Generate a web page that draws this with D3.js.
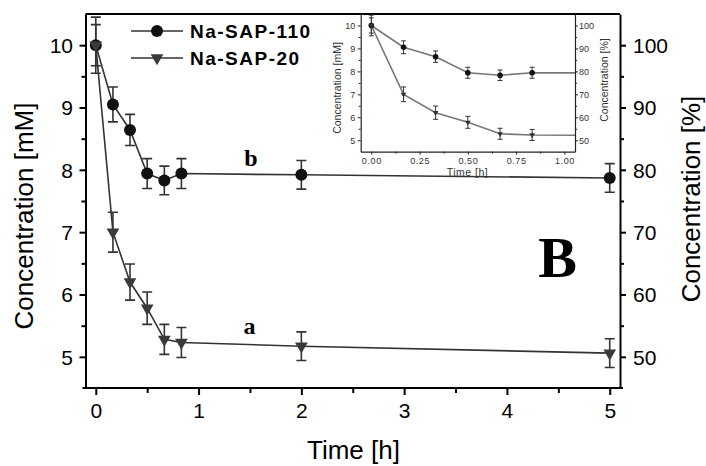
<!DOCTYPE html>
<html><head><meta charset="utf-8">
<script src="https://cdn.jsdelivr.net/npm/d3@7"></script>
<style>body{margin:0;background:#fff} svg{display:block}</style>
</head><body><svg id="c" width="706" height="466"></svg>
<script>
// ---- data ----
const times = [0, 0.167, 0.333, 0.5, 0.667, 0.833, 2, 5];
const sap110 = [10.0, 9.05, 8.64, 7.94, 7.83, 7.94, 7.92, 7.87];
const sap110Err = [0.45, 0.28, 0.25, 0.24, 0.23, 0.24, 0.23, 0.23];
const sap20 = [10.0, 7.0, 6.2, 5.78, 5.28, 5.23, 5.17, 5.06];
const sap20Err = [0.33, 0.32, 0.29, 0.26, 0.24, 0.24, 0.23, 0.23];
const seriesNames = ["Na-SAP-110", "Na-SAP-20"];
const xTicks = [0, 1, 2, 3, 4, 5];
const xMinor = [0.5, 1.5, 2.5, 3.5, 4.5];
const yTicks = [5, 6, 7, 8, 9, 10];
const yMinor = [5.5, 6.5, 7.5, 8.5, 9.5];
const pctTicks = [50, 60, 70, 80, 90, 100];
const pctMinor = [55, 65, 75, 85, 95];
const insetXTicks = [0, 0.25, 0.5, 0.75, 1.0];
const insetXMinor = [0.125, 0.375, 0.625, 0.875];
const labelA = "a", labelB = "b", panelLabel = "B";

const svg = d3.select("#c");
const sans = "Liberation Sans, Arial, sans-serif";
const serif = "Liberation Serif, Times New Roman, serif";

const series = [
  {name: seriesNames[0], vals: sap110, err: sap110Err, sym: "circle"},
  {name: seriesNames[1], vals: sap20, err: sap20Err, sym: "tri"}
];

// ---- main scales ----
const L = 85.5, R = 620, T = 14, B = 388;
const x = d3.scaleLinear().domain([-0.1, 5.1]).range([L, R]);
const y = d3.scaleLinear().domain([4.5, 10.5]).range([B, T]);
const yP = d3.scaleLinear().domain([45, 105]).range([B, T]);

function styleAxis(g, w) {
  g.select(".domain").attr("stroke", "#000").attr("stroke-width", w);
  g.selectAll(".tick line").attr("stroke", "#000").attr("stroke-width", w);
}

// minor ticks
svg.append("g").attr("transform", `translate(0,${B})`)
  .call(d3.axisBottom(x).tickValues(xMinor).tickSize(5).tickFormat(""))
  .call(g => { styleAxis(g, 2); g.select(".domain").remove(); });
svg.append("g").attr("transform", `translate(${L},0)`)
  .call(d3.axisLeft(y).tickValues(yMinor).tickSize(4).tickFormat(""))
  .call(g => { styleAxis(g, 2); g.select(".domain").remove(); });
svg.append("g").attr("transform", `translate(${R},0)`)
  .call(d3.axisRight(yP).tickValues(pctMinor).tickSize(4).tickFormat(""))
  .call(g => { styleAxis(g, 2); g.select(".domain").remove(); });

// major axes
const gx = svg.append("g").attr("transform", `translate(0,${B})`)
  .call(d3.axisBottom(x).tickValues(xTicks).tickSize(7).tickSizeOuter(0).tickFormat(d3.format("d")));
styleAxis(gx, 2);
gx.select(".domain").attr("d", `M${L-3},0H${R+3}`);
gx.selectAll("text").attr("font-family", sans).attr("font-size", 21).attr("fill", "#000")
  .attr("dy", null).attr("y", 30);

const gy = svg.append("g").attr("transform", `translate(${L},0)`)
  .call(d3.axisLeft(y).tickValues(yTicks).tickSize(6).tickSizeOuter(0).tickFormat(d3.format("d")));
styleAxis(gy, 2);
gy.selectAll("text").attr("font-family", sans).attr("font-size", 21).attr("fill", "#000")
  .attr("x", -12.5).attr("dy", "0.35em");

const gr = svg.append("g").attr("transform", `translate(${R},0)`)
  .call(d3.axisRight(yP).tickValues(pctTicks).tickSize(6).tickSizeOuter(0).tickFormat(d3.format("d")));
styleAxis(gr, 2);
gr.selectAll("text").attr("font-family", sans).attr("font-size", 21).attr("fill", "#000")
  .attr("x", 13).attr("dy", "0.35em");

// top border
svg.append("line").attr("x1", L).attr("x2", R).attr("y1", T).attr("y2", T)
  .attr("stroke", "#000").attr("stroke-width", 2);

// axis titles
svg.append("text").attr("transform", `translate(33,216) rotate(-90)`)
  .attr("text-anchor", "middle").attr("font-family", sans).attr("font-size", 26)
  .text("Concentration [mM]");
svg.append("text").attr("transform", `translate(700,199) rotate(-90)`)
  .attr("text-anchor", "middle").attr("font-family", sans).attr("font-size", 26)
  .text("Concentration [%]");
svg.append("text").attr("x", 353.5).attr("y", 459)
  .attr("text-anchor", "middle").attr("font-family", sans).attr("font-size", 26)
  .text("Time [h]");

// ---- draw series helper ----
function drawSeries(g, xs, ys, opt) {
  series.forEach(s => {
    const pts = times.map((t, i) => ({t, v: s.vals[i], e: s.err[i]}));
    g.append("path").datum(pts)
      .attr("d", d3.line().x(d => xs(d.t)).y(d => ys(d.v)))
      .attr("fill", "none").attr("stroke", opt.lineColor).attr("stroke-width", opt.lw);
    const eb = g.append("g");
    pts.forEach(d => {
      const cx = xs(d.t), y1 = ys(d.v + d.e), y2 = ys(d.v - d.e), c = opt.cap;
      eb.append("path")
        .attr("d", `M${cx},${y1}V${y2}M${cx-c},${y1}H${cx+c}M${cx-c},${y2}H${cx+c}`)
        .attr("stroke", opt.errColor).attr("stroke-width", opt.elw).attr("fill", "none");
    });
  });
  series.forEach(s => {
    const pts = times.map((t, i) => ({t, v: s.vals[i]}));
    const sym = s.sym === "circle"
      ? d3.symbol(d3.symbolCircle, opt.circleArea)
      : d3.symbol(d3.symbolTriangle, opt.triArea);
    g.append("g").selectAll("path").data(pts).join("path")
      .attr("d", sym)
      .attr("transform", d => `translate(${xs(d.t)},${ys(d.v)})` + (s.sym === "circle" ? "" : " rotate(180)"))
      .attr("fill", s.sym === "circle" ? opt.circleColor : opt.triColor);
  });
}

const main = svg.append("g");
drawSeries(main, x, y, {lineColor: "#333", lw: 1.6, errColor: "#333", elw: 1.6, cap: 5,
  circleArea: Math.PI * 6 * 6, triArea: 70, circleColor: "#111", triColor: "#3a3a3a"});

// labels
svg.append("text").attr("x", 251).attr("y", 166).attr("text-anchor", "middle")
  .attr("font-family", serif).attr("font-weight", "bold").attr("font-size", 24).text(labelB);
svg.append("text").attr("x", 249.5).attr("y", 334).attr("text-anchor", "middle")
  .attr("font-family", serif).attr("font-weight", "bold").attr("font-size", 24).text(labelA);
svg.append("text").attr("x", 557.5).attr("y", 277).attr("text-anchor", "middle")
  .attr("font-family", serif).attr("font-weight", "bold").attr("font-size", 58).text(panelLabel);

// legend
const leg = svg.append("g");
series.forEach((s, i) => {
  const ly = 31 + i * 27;
  leg.append("line").attr("x1", 131).attr("x2", 183).attr("y1", ly).attr("y2", ly)
    .attr("stroke", "#333").attr("stroke-width", 1.6);
  const sym = s.sym === "circle" ? d3.symbol(d3.symbolCircle, Math.PI * 36) : d3.symbol(d3.symbolTriangle, 70);
  leg.append("path").attr("d", sym)
    .attr("transform", `translate(157,${ly})` + (s.sym === "circle" ? "" : " rotate(180)"))
    .attr("fill", s.sym === "circle" ? "#111" : "#3a3a3a");
  leg.append("text").attr("x", 190).attr("y", ly + 7)
    .attr("font-family", sans).attr("font-weight", "bold").attr("font-size", 19)
    .attr("letter-spacing", 1.5).text(s.name);
});

// ---- inset ----
const iL = 360.7, iR = 575, iT = 14, iB = 151.7;
const ix = d3.scaleLinear().domain([-0.055, 1.055]).range([iL, iR]);
const iy = d3.scaleLinear().domain([4.5, 10.5]).range([iB, iT]);
const iyP = d3.scaleLinear().domain([45, 105]).range([iB, iT]);

svg.append("rect").attr("x", iL).attr("y", iT + 1).attr("width", iR - iL).attr("height", iB - iT - 1)
  .attr("fill", "#fff");
svg.append("clipPath").attr("id", "iclip").append("rect")
  .attr("x", iL).attr("y", iT).attr("width", iR - iL).attr("height", iB - iT);
const inset = svg.append("g").attr("clip-path", "url(#iclip)");
drawSeries(inset, ix, iy, {lineColor: "#777", lw: 1.6, errColor: "#333", elw: 1, cap: 2.5,
  circleArea: Math.PI * 2.8 * 2.8, triArea: 14, circleColor: "#111", triColor: "#333"});

function styleInset(g) {
  g.select(".domain").attr("stroke", "#222").attr("stroke-width", 1.2);
  g.selectAll(".tick line").attr("stroke", "#222").attr("stroke-width", 1);
  g.selectAll("text").attr("font-family", sans).attr("font-size", 9).attr("fill", "#333");
}
svg.append("g").attr("transform", `translate(0,${iB})`)
  .call(d3.axisBottom(ix).tickValues(insetXMinor).tickSize(2).tickFormat(""))
  .call(g => { styleInset(g); g.select(".domain").remove(); });
svg.append("g").attr("transform", `translate(${iL},0)`)
  .call(d3.axisLeft(iy).tickValues(yMinor).tickSize(2).tickFormat(""))
  .call(g => { styleInset(g); g.select(".domain").remove(); });
svg.append("g").attr("transform", `translate(${iR},0)`)
  .call(d3.axisRight(iyP).tickValues(pctMinor).tickSize(2).tickFormat(""))
  .call(g => { styleInset(g); g.select(".domain").remove(); });

const igx = svg.append("g").attr("transform", `translate(0,${iB})`)
  .call(d3.axisBottom(ix).tickValues(insetXTicks).tickSize(3).tickSizeOuter(0).tickFormat(d3.format(".2f")));
styleInset(igx);
igx.selectAll("text").attr("dy", null).attr("y", 12.5).attr("letter-spacing", 0.6);
const igy = svg.append("g").attr("transform", `translate(${iL},0)`)
  .call(d3.axisLeft(iy).tickValues(yTicks).tickSize(3).tickSizeOuter(0).tickFormat(d3.format("d")));
styleInset(igy);
igy.selectAll("text").attr("x", -5.5).attr("dy", "0.35em");
const igr = svg.append("g").attr("transform", `translate(${iR},0)`)
  .call(d3.axisRight(iyP).tickValues(pctTicks).tickSize(3).tickSizeOuter(0).tickFormat(d3.format("d")));
styleInset(igr);
igr.selectAll("text").attr("x", 4).attr("dy", "0.35em");

svg.append("text").attr("transform", `translate(341,88) rotate(-90)`)
  .attr("text-anchor", "middle").attr("font-family", sans).attr("font-size", 10.5).attr("fill", "#333")
  .text("Concentration [mM]");
svg.append("text").attr("transform", `translate(608,80) rotate(-90)`)
  .attr("text-anchor", "middle").attr("font-family", sans).attr("font-size", 10.5).attr("fill", "#333")
  .text("Concentration [%]");
svg.append("text").attr("x", 467.5).attr("y", 175.5)
  .attr("text-anchor", "middle").attr("font-family", sans).attr("font-size", 10.5).attr("fill", "#333")
  .attr("letter-spacing", 0.5)
  .text("Time [h]");
</script>
</body></html>
